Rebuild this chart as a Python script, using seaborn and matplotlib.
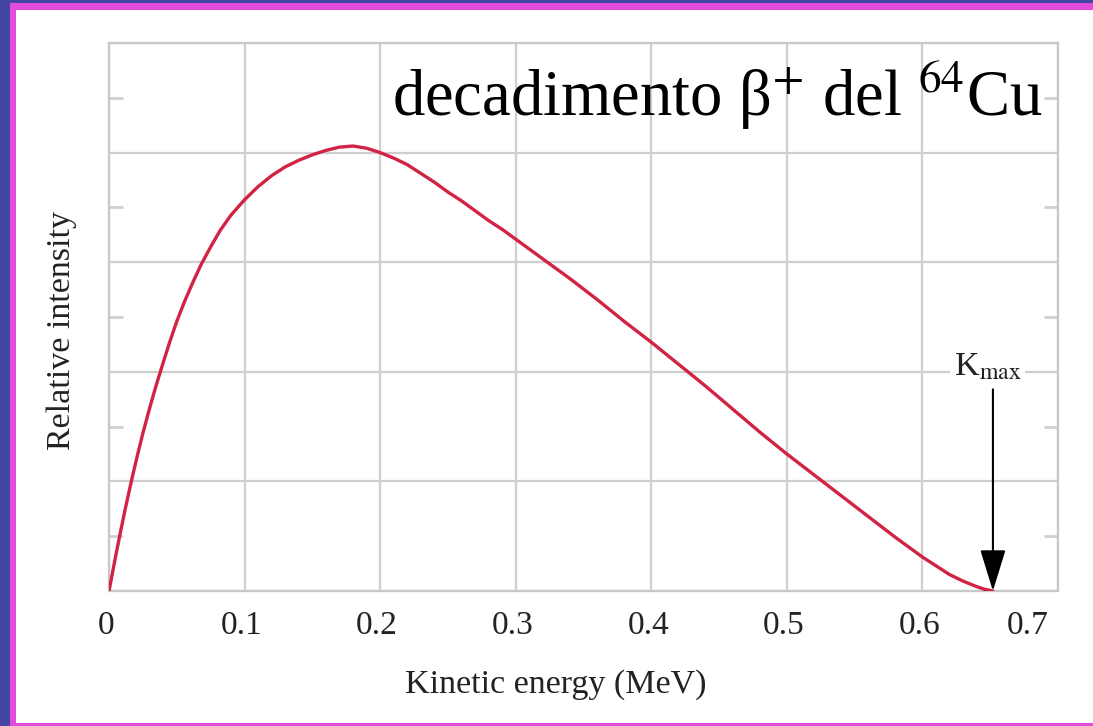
import numpy as np
import pandas as pd
import matplotlib
matplotlib.use('Agg')
import matplotlib.pyplot as plt
import seaborn as sns
from matplotlib.patches import Rectangle
from matplotlib.ticker import FixedLocator
import matplotlib.transforms as mtransforms

# ---- data ----
energy_mev = [0.000, 0.004, 0.008, 0.012, 0.017, 0.021, 0.025, 0.030, 0.035,
              0.040, 0.045, 0.050, 0.056, 0.062, 0.068, 0.075, 0.082, 0.090,
              0.100, 0.110, 0.120, 0.130, 0.140, 0.150, 0.160, 0.170, 0.180,
              0.190, 0.200, 0.210, 0.220, 0.230, 0.240, 0.250, 0.260, 0.270,
              0.280, 0.290, 0.300, 0.320, 0.340, 0.360, 0.380, 0.400, 0.420,
              0.440, 0.460, 0.480, 0.500, 0.520, 0.540, 0.560, 0.580, 0.600,
              0.610, 0.620, 0.630, 0.640, 0.646, 0.652]
intensity = [0.00, 0.26, 0.51, 0.75, 1.03, 1.24, 1.44, 1.67, 1.885,
             2.085, 2.28, 2.46, 2.65, 2.82, 2.98, 3.14, 3.29, 3.43,
             3.57, 3.69, 3.79, 3.87, 3.93, 3.98, 4.02, 4.05, 4.06,
             4.04, 4.00, 3.95, 3.89, 3.81, 3.73, 3.64, 3.56, 3.47,
             3.38, 3.30, 3.21, 3.03, 2.85, 2.66, 2.46, 2.27, 2.07,
             1.87, 1.66, 1.45, 1.25, 1.06, 0.87, 0.68, 0.49, 0.31,
             0.23, 0.15, 0.09, 0.04, 0.015, 0.00]
x_ticks = [0, 0.1, 0.2, 0.3, 0.4, 0.5, 0.6, 0.7]
x_tick_labels = ['0', '0.1', '0.2', '0.3', '0.4', '0.5', '0.6', '0.7']
y_major = [0, 1, 2, 3, 4, 5]
y_minor = [0.5, 1.5, 2.5, 3.5, 4.5]
k_max = 0.652
title_text = 'decadimento β$^{+}$ del $^{64}$Cu'
x_label = 'Kinetic energy (MeV)'
y_label = 'Relative intensity'
kmax_label = r'K$_{\mathrm{max}}$'

# ---- style ----
sns.set_theme(style='whitegrid')
plt.rcParams['font.family'] = ['Liberation Serif', 'DejaVu Serif']
plt.rcParams['mathtext.fontset'] = 'stix'

W, H = 1093, 726
fig = plt.figure(figsize=(W / 100, H / 100), dpi=100)
fig.patch.set_facecolor('white')

ax = fig.add_axes([109 / W, 1 - 591 / H, (1058 - 109) / W, (591 - 43) / H])
ax.set_facecolor('white')
ax.set_axisbelow(True)

df = pd.DataFrame({'energy': energy_mev, 'intensity': intensity})
sns.lineplot(data=df, x='energy', y='intensity', ax=ax, color='#d32344',
             lw=2.4, sort=False, zorder=3)

ax.set_xlim(0, 0.7)
ax.set_ylim(0, 5)
ax.set_xticks(x_ticks)
ax.set_xticklabels(x_tick_labels, fontsize=24, color='#222222')
ax.yaxis.set_major_locator(FixedLocator(y_major))
ax.yaxis.set_minor_locator(FixedLocator(y_minor))
ax.set_yticklabels([])
ax.tick_params(axis='x', which='major', length=0, pad=14)
ax.tick_params(axis='y', which='major', length=0)
ax.tick_params(axis='y', which='minor', direction='in', length=10, width=2,
               color='#d0d0d0', left=True, right=True)

grid_col = '#cfcfcf'
ax.grid(True, which='major', color=grid_col, lw=1.6)
for sp in ax.spines.values():
    sp.set_color('#c8c8c8')
    sp.set_linewidth(1.6)

ax.set_xlabel('')
ax.set_ylabel('')
fig.text(556 / W, 1 - 685 / H, x_label, ha='center', va='center',
         fontsize=24.5, color='#222222')
fig.text(62 / W, 1 - 331 / H, y_label, ha='center', va='center',
         rotation=90, fontsize=24.5, color='#222222')

# shift tick labels slightly as in reference
labels = ax.get_xticklabels()
for i, lab in enumerate(labels):
    dx = -30 if i == len(labels) - 1 else -3
    lab.set_transform(lab.get_transform() +
                      mtransforms.ScaledTranslation(dx / 100, 0, fig.dpi_scale_trans))

# K_max arrow and label
ax.annotate('', xy=(k_max, 0), xytext=(k_max, 1.84),
            arrowprops=dict(arrowstyle='-|>,head_length=1.3,head_width=0.4',
                            color='black', lw=1.5, mutation_scale=20,
                            shrinkA=0, shrinkB=0), zorder=4)
ax.text(0.648, 2.04, kmax_label, ha='center', va='center', fontsize=24.5,
        color='#222222', zorder=4,
        bbox=dict(fc='white', ec='none', pad=3))

# title
fig.text(1043 / W, 1 - 117 / H, title_text, ha='right', va='baseline',
         fontsize=46.5, color='black')

# coloured frame
blue = '#4545a6'
magenta = '#e24cda'
def px_rect(x0, y0, x1, y1, color):
    fig.add_artist(Rectangle((x0 / W, 1 - y1 / H), (x1 - x0) / W, (y1 - y0) / H,
                             transform=fig.transFigure, facecolor=color,
                             edgecolor='none', zorder=10))
px_rect(0, 0, 10, H, blue)
px_rect(0, 0, W, 3, blue)
px_rect(10, 3, 16, H, magenta)
px_rect(10, 3, W, 10, magenta)
px_rect(10, 723, W, H, magenta)

fig.savefig('out.png', dpi=100, facecolor='white')
